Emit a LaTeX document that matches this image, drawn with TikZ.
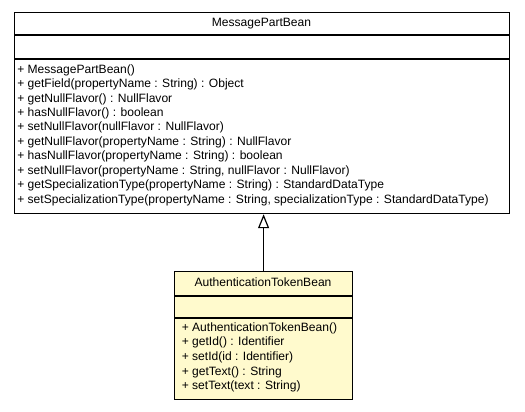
\documentclass[tikz,border=0pt]{standalone}
\usepackage{fontspec}
\setmainfont{Liberation Sans}
\usetikzlibrary{arrows.meta}
\definecolor{beanfill}{RGB}{255,250,205}
\begin{document}
\begin{tikzpicture}[x=0.75pt,y=-0.75pt,
  umlbox/.style={draw=black, line width=0.9pt, inner sep=0pt, anchor=north west},
  divider/.style={draw=black, line width=0.9pt},
  member/.style={anchor=west, inner sep=0pt, font=\fontsize{9.05pt}{10pt}\selectfont},
  title/.style={anchor=center, inner sep=0pt, font=\fontsize{9.05pt}{10pt}\selectfont},
  inherit/.style={draw=black, line width=0.9pt, -{Triangle[open, length=14*0.75pt, width=11*0.75pt, fill=white]}}]
\useasboundingbox (0,0) rectangle (525,411);
% top class
\node[umlbox, fill=white, minimum width=495*0.75pt, minimum height=201*0.75pt] (mpb) at (14,12) {};
\draw[divider] (14,35) -- (509,35);
\draw[divider] (14,59) -- (509,59);
\node[title] (mpbname) at (261.5,23.5) {MessagePartBean};
\foreach \t [count=\i from 0] in {
  {+ MessagePartBean()},
  {+ getField(propertyName : String) : Object},
  {+ getNullFlavor() : NullFlavor},
  {+ hasNullFlavor() : boolean},
  {+ setNullFlavor(nullFlavor : NullFlavor)},
  {+ getNullFlavor(propertyName : String) : NullFlavor},
  {+ hasNullFlavor(propertyName : String) : boolean},
  {+ setNullFlavor(propertyName : String, nullFlavor : NullFlavor)},
  {+ getSpecializationType(propertyName : String) : StandardDataType},
  {+ setSpecializationType(propertyName : String, specializationType : StandardDataType)}}
  \node[member] (m\i) at (17,70+14.45*\i) {\t};
% bottom class
\node[umlbox, fill=beanfill, minimum width=178*0.75pt, minimum height=128*0.75pt] (atb) at (174,271) {};
\draw[divider] (174,296) -- (352,296);
\draw[divider] (174,318) -- (352,318);
\node[title] (atbname) at (263,282) {AuthenticationTokenBean};
\foreach \t [count=\i from 0] in {
  {+ AuthenticationTokenBean()},
  {+ getId() : Identifier},
  {+ setId(id : Identifier)},
  {+ getText() : String},
  {+ setText(text : String)}}
  \node[member] (a\i) at (181.5,328+14.7*\i) {\t};
% generalization
\draw[inherit] (atb.north) -- (atb.north |- mpb.south);
\end{tikzpicture}
\end{document}
